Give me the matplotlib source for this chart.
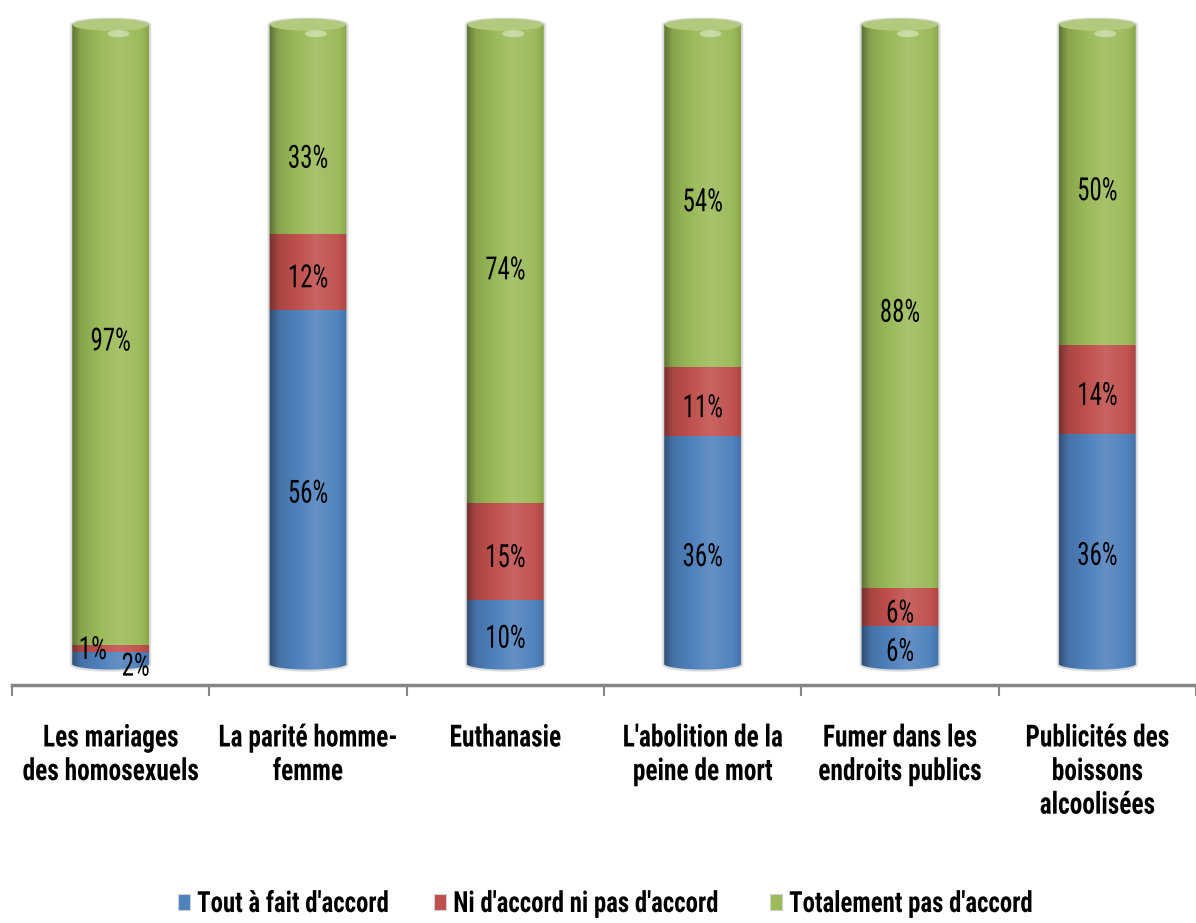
import numpy as np
import matplotlib
matplotlib.use("Agg")
from matplotlib import pyplot as plt
from matplotlib.path import Path
from matplotlib.patches import PathPatch, Ellipse, Rectangle
from matplotlib.colors import to_rgb
from matplotlib.patheffects import AbstractPathEffect
from matplotlib.transforms import Affine2D

plt.rcParams["font.family"] = ["Roboto Condensed", "Liberation Sans", "DejaVu Sans"]

categories = [
    "Les mariages\ndes homosexuels",
    "La parité homme-\nfemme",
    "Euthanasie",
    "L'abolition de la\npeine de mort",
    "Fumer dans les\nendroits publics",
    "Publicités des\nboissons\nalcoolisées",
]
series_names = ["Tout à fait d'accord", "Ni d'accord ni pas d'accord", "Totalement pas d'accord"]
tout_accord = [2, 56, 10, 36, 6, 36]
ni_accord = [1, 12, 15, 11, 6, 14]
pas_accord = [97, 33, 74, 54, 88, 50]
series = [tout_accord, ni_accord, pas_accord]
colors = ["#4F81BD", "#C0504D", "#9BBB59"]

# decalages manuels de quelques etiquettes (en pixels, vers le bas positif)
label_offsets = {(0, 0): (25, 9), (0, 1): (-18, 2), (1, 2): (0, 30)}


class Etroit(AbstractPathEffect):
    """Comprime le texte horizontalement (police tres etroite)."""

    def __init__(self, s=0.8, ancre="center"):
        super().__init__()
        self.s = s
        self.ancre = ancre

    def draw_path(self, renderer, gc, tpath, affine, rgbFace=None):
        bb = tpath.get_extents(affine)
        cx = bb.x0 if self.ancre == "left" else (bb.x0 + bb.x1) / 2
        a = affine + Affine2D().translate(-cx, 0).scale(self.s, 1).translate(cx, 0)
        renderer.draw_path(gc, tpath, a, rgbFace)


fig = plt.figure(figsize=(11.96, 9.23), dpi=100)
ax = fig.add_axes([12 / 1196, 1 - 685 / 923, 1 - 12 / 1196, 675 / 923])

largeur = 0.40
eh = 0.95  # demi-hauteur des ellipses (unites de donnees)


def degrade(couleur, n=64):
    # ombrage horizontal d'un cylindre : sombre a gauche, clair vers 60 %
    c = np.array(to_rgb(couleur))
    t = np.linspace(0, 1, n)
    f = np.interp(t, [0, 0.12, 0.6, 0.88, 1], [-0.4, -0.12, 0.12, 0.02, -0.12])
    img = np.zeros((1, n, 3))
    for k, v in enumerate(f):
        if v < 0:
            img[0, k] = c * (1 + v)
        else:
            img[0, k] = c + (1 - c) * v
    return img


for i in range(len(categories)):
    x0 = i - largeur / 2
    x1 = i + largeur / 2
    total = sum(s[i] for s in series)
    # colonne 100 % empilee
    parts = [s[i] / total * 100 for s in series]
    # contour du cylindre : ellipse en bas et en haut
    a = np.linspace(np.pi, 2 * np.pi, 40)
    bas = np.column_stack([i + largeur / 2 * np.cos(a), 0 + eh * np.sin(a)])
    a = np.linspace(0, np.pi, 40)
    haut = np.column_stack([i + largeur / 2 * np.cos(a), 100 + eh * np.sin(a)])
    verts = np.vstack([bas, haut, bas[:1]])
    forme = PathPatch(Path(verts, closed=True), transform=ax.transData,
                      facecolor="none", edgecolor="#dcdcdc", lw=1.5, zorder=3)
    ax.add_patch(forme)

    bottom = 0
    for j, s in enumerate(series):
        v = parts[j]
        lo = bottom - (eh if j == 0 else 0)
        hi = bottom + v + (eh if j == len(series) - 1 else 0)
        im = ax.imshow(degrade(colors[j]), extent=(x0, x1, lo, hi), aspect="auto",
                       interpolation="bilinear", zorder=2)
        im.set_clip_path(forme)
        dx, dy = label_offsets.get((i, j), (0, 7))
        t = ax.annotate(f"{s[i]}%", xy=(i, bottom + v / 2), xytext=(dx, -dy),
                        textcoords="offset pixels", ha="center", va="center",
                        fontsize=23, zorder=5)
        t.set_path_effects([Etroit(0.78)])
        bottom += v

    # couvercle plus clair
    cap_col = np.array(to_rgb(colors[2]))
    cap_col = cap_col + (1 - cap_col) * 0.22
    cap = Ellipse((i, 100), largeur * 0.96, 2 * eh, facecolor=cap_col,
                  edgecolor="none", zorder=4)
    ax.add_patch(cap)
    reflet = Ellipse((i + largeur * 0.1, 100 - 1.4), largeur * 0.28, 1.1,
                     facecolor="white", alpha=0.4, edgecolor="none", zorder=4)
    ax.add_patch(reflet)

ax.set_xlim(-0.5, len(categories) - 0.5)
ax.set_ylim(-3.2, 102.3)

ax.set_xticks(range(len(categories)), categories, fontsize=22, fontweight="bold")
for lab in ax.get_xticklabels():
    lab.set_linespacing(1.15)
    lab.set_path_effects([Etroit(0.83)])
ax.set_xticks(np.arange(-0.5, len(categories)), minor=True)
ax.tick_params(axis="x", which="major", length=0, pad=27)
ax.tick_params(axis="x", which="minor", length=8, width=1.5, color="#868686", direction="out")
ax.set_yticks([])
for side in ["top", "right", "left"]:
    ax.spines[side].set_visible(False)
ax.spines["bottom"].set_color("#868686")
ax.spines["bottom"].set_linewidth(2.5)

# legende dessinee a la main (texte etroit)
leg_x = [178, 434, 770]
leg_y = 1 - 912 / 923
for xl, nom, c in zip(leg_x, series_names, colors):
    fig.patches.append(Rectangle((xl / 1196, 1 - 910 / 923), 12 / 1196, 16 / 923,
                                 transform=fig.transFigure, facecolor=c,
                                 edgecolor="#d0d0d0", lw=0.8))
    tl = fig.text((xl + 19) / 1196, leg_y, nom, fontsize=21, fontweight="bold",
                  ha="left", va="baseline")
    tl.set_path_effects([Etroit(0.85, "left")])

plt.savefig("out.png", dpi=100)
